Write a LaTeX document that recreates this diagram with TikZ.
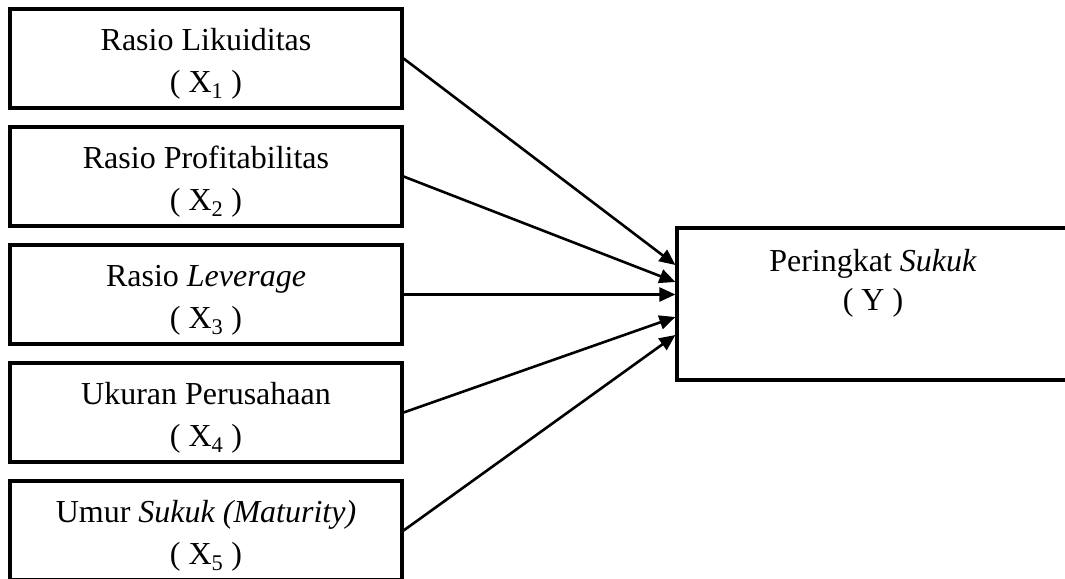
\documentclass[tikz,border=0pt]{standalone}
\usepackage{fontspec}
\setmainfont{Liberation Serif}
\usetikzlibrary{arrows.meta,positioning,calc}
\newcommand{\topstrut}{\rule{0pt}{32pt}}

\begin{document}
\begin{tikzpicture}[node distance=118pt,>={Triangle[length=16pt,width=14pt]},
  varbox/.style={draw,line width=3.2pt,minimum width=392pt,minimum height=99pt,
    align=center,font=\fontsize{32}{42}\selectfont}]
\useasboundingbox (0,0) rectangle (1065pt,-578pt);
\node[varbox] (x1) at (206pt,-58.5pt) {\topstrut Rasio Likuiditas\\( X\textsubscript{1} )};
\node[varbox] (x2) [below of=x1] {\topstrut Rasio Profitabilitas\\( X\textsubscript{2} )};
\node[varbox] (x3) [below of=x2] {\topstrut Rasio \textit{Leverage}\\( X\textsubscript{3} )};
\node[varbox] (x4) [below of=x3] {\topstrut Ukuran Perusahaan\\( X\textsubscript{4} )};
\node[varbox] (x5) [below of=x4] {\topstrut Umur \textit{Sukuk (Maturity)}\\( X\textsubscript{5} )};
\node[varbox,minimum height=152pt] (y) at (873pt,-304pt)
  {Peringkat \textit{Sukuk}\\[-3pt]( Y )\rule[-49pt]{0pt}{0pt}};
\draw[->,line width=2.6pt] (x1.east) -- ($(y.west)+(0,39pt)$);
\draw[->,line width=2.6pt] (x2.east) -- ($(y.west)+(0,22pt)$);
\draw[->,line width=2.6pt] (x3.east) -- (y.west |- x3.east);
\draw[->,line width=2.6pt] (x4.east) -- ($(y.west)+(0,-13pt)$);
\draw[->,line width=2.6pt] (x5.east) -- ($(y.west)+(0,-31pt)$);
\end{tikzpicture}
\end{document}
